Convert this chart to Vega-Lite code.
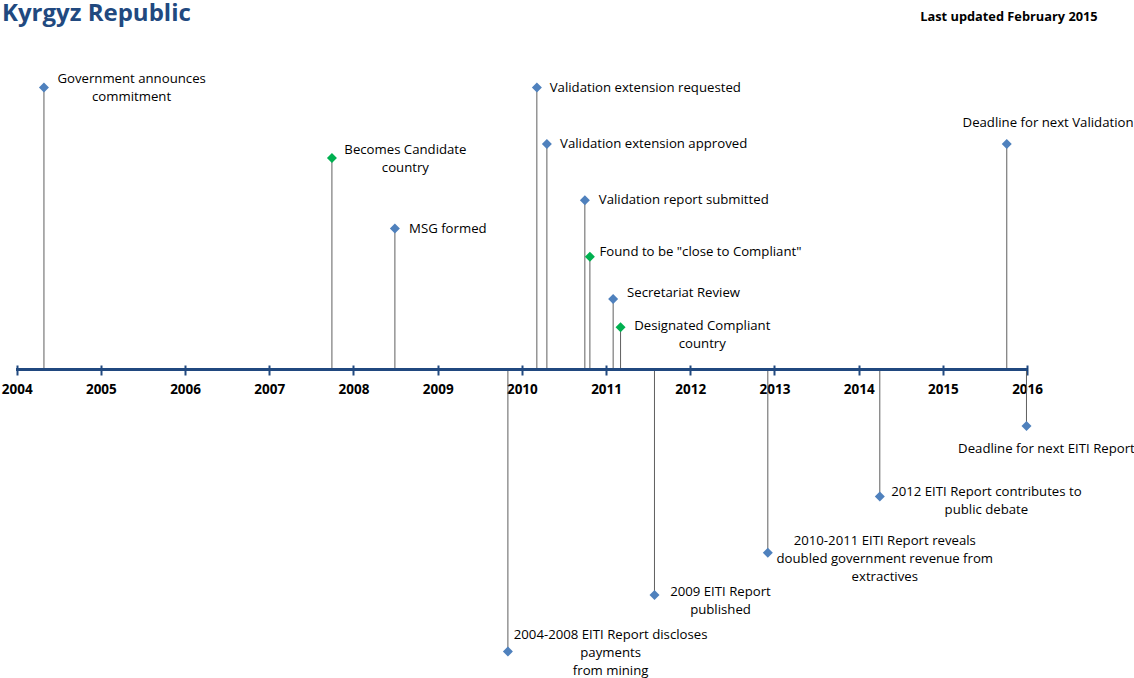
{
  "$schema": "https://vega.github.io/schema/vega-lite/v6.json",
  "width": 1134,
  "height": 678,
  "autosize": {"type": "none"},
  "padding": 0,
  "background": "white",
  "config": {"view": {"stroke": null}},
  "title": {
    "text": "Kyrgyz Republic",
    "anchor": "start",
    "frame": "group",
    "offset": -26,
    "dx": 2,
    "font": "Open Sans",
    "fontSize": 24,
    "fontWeight": "bold",
    "color": "#21497f"
  },
  "data": {
    "values": [
      {"event": "Government announces\ncommitment", "year": 2004.324, "h": 10, "type": "Process", "lx": 2005.365, "ly": 10.3},
      {"event": "Becomes Candidate\ncountry", "year": 2007.744, "h": 7.5, "type": "Status", "lx": 2008.617, "ly": 7.78},
      {"event": "MSG formed", "year": 2008.492, "h": 5, "type": "Process", "lx": 2009.121, "ly": 4.98},
      {"event": "2004-2008 EITI Report discloses\npayments\nfrom mining", "year": 2009.834, "h": -10, "type": "Process", "lx": 2011.054, "ly": -9.41},
      {"event": "Validation extension requested", "year": 2010.178, "h": 10, "type": "Process", "lx": 2011.466, "ly": 9.98},
      {"event": "Validation extension approved", "year": 2010.297, "h": 8, "type": "Process", "lx": 2011.565, "ly": 8.0},
      {"event": "Validation report submitted", "year": 2010.748, "h": 6, "type": "Process", "lx": 2011.923, "ly": 6.01},
      {"event": "Found to be \"close to Compliant\"", "year": 2010.808, "h": 4, "type": "Status", "lx": 2012.121, "ly": 4.18},
      {"event": "Secretariat Review", "year": 2011.084, "h": 2.5, "type": "Process", "lx": 2011.92, "ly": 2.7},
      {"event": "Designated Compliant\ncountry", "year": 2011.172, "h": 1.5, "type": "Status", "lx": 2012.143, "ly": 1.54},
      {"event": "2009 EITI Report\npublished", "year": 2011.575, "h": -8, "type": "Process", "lx": 2012.359, "ly": -7.88},
      {"event": "2010-2011 EITI Report reveals\ndoubled government revenue from\nextractives", "year": 2012.921, "h": -6.5, "type": "Process", "lx": 2014.31, "ly": -6.08},
      {"event": "2012 EITI Report contributes to\npublic debate", "year": 2014.251, "h": -4.5, "type": "Process", "lx": 2015.517, "ly": -4.33},
      {"event": "Deadline for next Validation", "year": 2015.759, "h": 8, "type": "Process", "lx": 2016.249, "ly": 8.73},
      {"event": "Deadline for next EITI Report", "year": 2015.993, "h": -2, "type": "Process", "lx": 2016.23, "ly": -2.83}
    ]
  },
  "layer": [
    {
      "mark": {"type": "rule", "color": "#5f5f5f", "strokeWidth": 1},
      "encoding": {
        "x": {
          "field": "year",
          "type": "quantitative",
          "scale": {"domain": [2003.802, 2017.27], "nice": false, "zero": false},
          "axis": {
            "orient": "bottom",
            "offset": -313,
            "values": [2004, 2005, 2006, 2007, 2008, 2009, 2010, 2011, 2012, 2013, 2014, 2015, 2016],
            "format": "d",
            "title": null,
            "domain": false,
            "grid": false,
            "tickSize": 10,
            "tickWidth": 2,
            "tickColor": "#21497f",
            "labelFont": "Open Sans",
            "labelFontSize": 13.5,
            "labelFontWeight": "bold",
            "labelColor": "#000000",
            "labelPadding": 7,
            "labelFlush": false
          }
        },
        "y": {
          "field": "h",
          "type": "quantitative",
          "scale": {"domain": [-10.94, 13.103], "nice": false, "zero": false},
          "axis": null
        },
        "y2": {"datum": 0}
      }
    },
    {
      "mark": {"type": "rule", "color": "#21497f", "strokeWidth": 2.5},
      "encoding": {
        "x": {"datum": 2004},
        "x2": {"datum": 2016},
        "y": {"datum": 0}
      }
    },
    {
      "mark": {"type": "point", "shape": "diamond", "filled": true, "size": 100, "opacity": 1},
      "encoding": {
        "x": {"field": "year", "type": "quantitative"},
        "y": {"field": "h", "type": "quantitative"},
        "color": {
          "field": "type",
          "type": "nominal",
          "scale": {"domain": ["Process", "Status"], "range": ["#4f81bd", "#00b050"]},
          "legend": null
        }
      }
    },
    {
      "mark": {
        "type": "text",
        "align": "center",
        "baseline": "middle",
        "lineBreak": "\n",
        "lineHeight": 18,
        "font": "Open Sans",
        "fontSize": 13.2,
        "color": "#000000"
      },
      "encoding": {
        "x": {"field": "lx", "type": "quantitative"},
        "y": {"field": "ly", "type": "quantitative"},
        "text": {"field": "event"}
      }
    },
    {
      "data": {"values": [{"note": "Last updated February 2015"}]},
      "mark": {
        "type": "text",
        "align": "center",
        "baseline": "middle",
        "font": "Open Sans",
        "fontSize": 12.8,
        "fontWeight": "bold",
        "color": "#000000"
      },
      "encoding": {
        "x": {"datum": 2015.785},
        "y": {"datum": 12.51},
        "text": {"field": "note"}
      }
    }
  ]
}
